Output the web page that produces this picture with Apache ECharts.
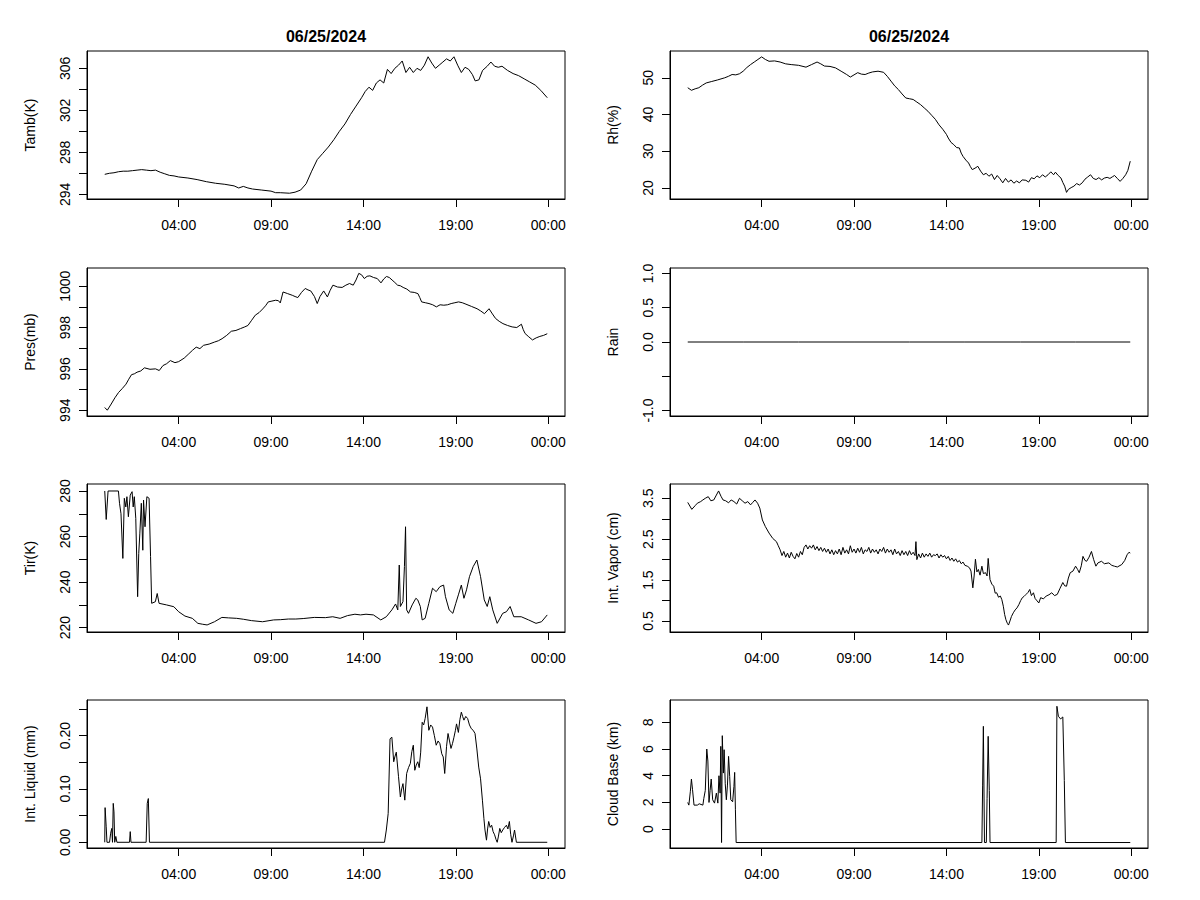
<!DOCTYPE html>
<html>
<head>
<meta charset="utf-8">
<title>06/25/2024</title>
<script src="https://cdn.jsdelivr.net/npm/echarts@6/dist/echarts.min.js"></script>
<style>
    html, body { margin: 0; padding: 0; background: #fff; }
    #chart { width: 1200px; height: 900px; }
</style>
</head>
<body>
<div id="chart"></div>
<script>
const TITLE = '06/25/2024';
const TIME_TICKS = [4, 9, 14, 19, 24];
const X_MIN = -0.96;
const X_MAX = 24.91;

// each series: [hour of day, value]
const tamb = [
    [0, 295.9], [0.25, 296.0], [0.5, 296.05], [0.75, 296.15], [1, 296.2], [1.25, 296.2], [1.5, 296.25],
    [1.75, 296.3], [2, 296.35], [2.25, 296.3], [2.5, 296.25], [2.75, 296.3], [3, 296.1], [3.25, 295.95],
    [3.5, 295.8], [3.75, 295.75], [4, 295.65], [4.5, 295.55], [5, 295.4], [5.5, 295.2], [6, 295.05],
    [6.5, 294.95], [7, 294.8], [7.25, 294.6], [7.5, 294.75], [7.75, 294.6], [8, 294.5], [8.5, 294.4],
    [9, 294.3], [9.25, 294.15], [9.5, 294.15], [10, 294.1], [10.3, 294.2], [10.6, 294.4], [10.9, 295.0],
    [11.2, 296.2], [11.5, 297.3], [11.8, 297.9], [12.1, 298.5], [12.4, 299.2], [12.7, 300.0], [13.0, 300.7],
    [13.3, 301.6], [13.6, 302.4], [13.9, 303.2], [14.1, 303.8], [14.3, 304.2], [14.5, 303.9], [14.7, 304.6],
    [14.9, 304.9], [15.1, 304.6], [15.3, 305.9], [15.5, 305.5], [15.7, 306.0], [15.9, 306.3], [16.1, 306.7],
    [16.3, 305.6], [16.5, 306.1], [16.7, 305.6], [16.9, 306.0], [17.1, 305.8], [17.3, 306.3], [17.5, 307.1],
    [17.7, 306.5], [17.9, 306.0], [18.1, 306.3], [18.3, 306.6], [18.5, 306.9], [18.7, 306.7], [18.9, 307.1],
    [19.1, 306.3], [19.3, 305.6], [19.5, 306.1], [19.7, 305.9], [19.9, 305.4], [20.05, 304.8], [20.25, 304.9],
    [20.45, 305.8], [20.7, 306.2], [20.9, 306.6], [21.1, 306.2], [21.3, 306.1], [21.5, 306.2], [21.8, 305.8],
    [22.1, 305.5], [22.4, 305.3], [22.7, 305.0], [23.0, 304.7], [23.3, 304.4], [23.6, 303.9], [23.95, 303.2]
];

const rh = [
    [0, 47.3], [0.2, 46.6], [0.4, 47.0], [0.6, 47.3], [0.8, 48.0], [1, 48.6], [1.3, 49.0], [1.6, 49.4],
    [2, 50.0], [2.2, 50.4], [2.4, 50.9], [2.6, 50.8], [2.8, 51.1], [3, 51.8], [3.2, 52.8], [3.4, 53.6],
    [3.6, 54.3], [3.8, 55.0], [4, 55.7], [4.2, 55.0], [4.4, 54.5], [4.7, 54.6], [5, 54.3], [5.3, 53.8],
    [5.6, 53.6], [6.0, 53.4], [6.4, 52.9], [6.7, 53.6], [7, 54.3], [7.2, 53.8], [7.4, 53.2], [7.7, 53.1],
    [8, 52.7], [8.3, 51.8], [8.6, 50.9], [8.8, 50.2], [9.0, 50.8], [9.2, 51.4], [9.4, 51.0], [9.6, 50.9],
    [9.8, 51.3], [10, 51.6], [10.3, 51.8], [10.6, 51.5], [10.8, 50.4], [11, 49.1], [11.2, 47.8], [11.4, 46.8],
    [11.6, 45.6], [11.8, 44.5], [12, 44.3], [12.2, 44.1], [12.4, 43.4], [12.6, 42.7], [12.8, 41.8], [13, 40.9],
    [13.2, 39.8], [13.4, 38.7], [13.6, 37.2], [13.8, 36.0], [14.0, 34.6], [14.1, 33.6], [14.25, 32.4],
    [14.4, 31.8], [14.55, 31.0], [14.7, 30.9], [14.8, 29.5], [14.9, 28.6], [15.05, 27.6], [15.2, 26.8],
    [15.3, 25.8], [15.4, 25.0], [15.55, 25.4], [15.7, 25.9], [15.85, 24.6], [16, 23.6], [16.15, 24.0],
    [16.3, 23.2], [16.45, 23.8], [16.6, 22.3], [16.75, 23.4], [16.9, 22.5], [17.05, 21.4], [17.2, 22.6],
    [17.35, 21.6], [17.5, 22.2], [17.65, 21.3], [17.8, 21.9], [17.95, 21.4], [18.1, 22.2], [18.3, 22.1],
    [18.45, 21.6], [18.6, 22.8], [18.75, 22.5], [18.9, 23.3], [19.05, 22.8], [19.2, 23.6], [19.35, 23.0],
    [19.5, 23.6], [19.65, 24.4], [19.8, 23.6], [19.9, 24.3], [20.05, 23.4], [20.2, 22.7], [20.3, 21.5],
    [20.4, 20.5], [20.5, 18.8], [20.6, 19.6], [20.75, 20.1], [20.9, 20.5], [21.05, 21.2], [21.2, 20.8],
    [21.35, 21.4], [21.5, 22.4], [21.65, 23.0], [21.8, 23.6], [21.95, 22.6], [22.1, 22.3], [22.25, 22.8],
    [22.4, 22.2], [22.55, 22.7], [22.7, 22.9], [22.85, 22.6], [23.0, 23.1], [23.1, 23.4], [23.25, 22.6],
    [23.4, 21.8], [23.55, 22.6], [23.7, 23.6], [23.82, 24.8], [23.95, 27.3]
];

const pres = [
    [0, 994.13], [0.14, 994.0], [0.35, 994.3], [0.55, 994.6], [0.75, 994.86], [0.95, 995.05], [1.15, 995.26],
    [1.3, 995.5], [1.45, 995.72], [1.6, 995.76], [1.75, 995.84], [1.95, 995.9], [2.15, 996.05], [2.45, 995.98],
    [2.75, 996.0], [2.95, 995.92], [3.15, 996.16], [3.35, 996.25], [3.55, 996.4], [3.8, 996.3], [4, 996.35],
    [4.3, 996.52], [4.55, 996.73], [4.75, 996.9], [4.95, 997.05], [5.15, 996.98], [5.35, 997.14],
    [5.65, 997.2], [5.95, 997.3], [6.15, 997.36], [6.35, 997.46], [6.6, 997.62], [6.85, 997.82],
    [7.1, 997.86], [7.35, 997.95], [7.55, 998.02], [7.75, 998.1], [7.95, 998.35], [8.15, 998.6],
    [8.35, 998.72], [8.55, 998.9], [8.7, 999.05], [8.85, 999.24], [9.05, 999.28], [9.25, 999.32],
    [9.4, 999.3], [9.5, 999.19], [9.65, 999.72], [9.9, 999.64], [10.15, 999.56], [10.3, 999.5],
    [10.45, 999.45], [10.65, 999.7], [10.85, 999.89], [11.0, 999.82], [11.15, 999.77], [11.35, 999.5],
    [11.5, 999.16], [11.65, 999.5], [11.85, 999.77], [12.05, 999.48], [12.2, 999.8], [12.35, 1000.05],
    [12.6, 999.96], [12.85, 999.94], [13.05, 1000.05], [13.25, 1000.13], [13.45, 1000.05], [13.6, 1000.3],
    [13.75, 1000.62], [13.9, 1000.55], [14.05, 1000.37], [14.2, 1000.48], [14.35, 1000.5], [14.55, 1000.42],
    [14.75, 1000.37], [14.95, 1000.16], [15.1, 1000.35], [15.25, 1000.47], [15.4, 1000.42], [15.55, 1000.3],
    [15.7, 1000.18], [15.85, 1000.05], [16.0, 1000.02], [16.15, 999.94], [16.35, 999.86], [16.55, 999.72],
    [16.75, 999.7], [16.95, 999.64], [17.05, 999.45], [17.15, 999.24], [17.35, 999.2], [17.55, 999.16],
    [17.75, 999.1], [17.95, 999.0], [18.15, 999.1], [18.35, 999.08], [18.55, 999.1], [18.75, 999.16],
    [18.95, 999.2], [19.15, 999.24], [19.35, 999.2], [19.55, 999.13], [19.85, 999.02], [20.15, 998.91],
    [20.35, 998.8], [20.55, 998.67], [20.8, 998.91], [20.95, 998.7], [21.15, 998.44], [21.35, 998.3],
    [21.55, 998.19], [21.8, 998.1], [22.05, 998.03], [22.3, 998.0], [22.55, 998.16], [22.65, 997.9],
    [22.75, 997.71], [22.95, 997.55], [23.15, 997.4], [23.35, 997.5], [23.55, 997.57], [23.75, 997.62],
    [23.95, 997.7]
];

const rain = [
    [0, 0], [3, 0], [6, 0], [9, 0], [12, 0], [15, 0], [18, 0], [21, 0], [23.95, 0]
];

const tir = [
    [0, 280], [0.08, 267.5], [0.18, 280], [0.34, 280], [0.74, 280], [0.8, 274.6], [0.88, 270], [0.98, 250.4],
    [1.06, 276.8], [1.14, 273], [1.2, 277.5], [1.28, 268.7], [1.38, 278.2], [1.48, 279.7], [1.54, 273],
    [1.6, 277.5], [1.68, 268], [1.78, 233.6], [1.84, 252.6], [1.9, 261.5], [1.98, 274.6], [2.06, 254],
    [2.1, 276], [2.18, 264.3], [2.28, 277.5], [2.4, 276.8], [2.48, 251.2], [2.54, 230.7], [2.74, 231.4],
    [2.84, 235], [2.94, 230.7], [3.34, 230], [3.74, 229.2], [4, 227], [4.34, 225.1], [4.74, 224.1],
    [5.04, 221.9], [5.3, 221.5], [5.54, 221.2], [5.94, 222.6], [6.34, 224.5], [6.7, 224.3], [7.14, 224.1],
    [7.5, 223.7], [7.94, 223.1], [8.54, 222.6], [9.14, 223.4], [9.5, 223.5], [9.94, 223.8], [10.34, 223.8],
    [10.74, 224], [11.34, 224.5], [11.94, 224.4], [12.34, 224.8], [12.74, 224.1], [13.14, 225.3],
    [13.54, 225.9], [13.84, 225.6], [14.14, 225.9], [14.54, 225.6], [14.94, 223.4], [15.24, 224.8],
    [15.54, 227.8], [15.74, 230.4], [15.86, 227.8], [15.94, 247.5], [16.0, 229.3], [16.14, 231.4],
    [16.22, 246.8], [16.28, 264.3], [16.34, 227.8], [16.44, 226.3], [16.64, 230], [16.84, 232.9],
    [16.94, 232.2], [17.08, 229.3], [17.18, 223.4], [17.34, 224.1], [17.54, 230.7], [17.74, 237.3],
    [17.94, 235.8], [18.14, 238], [18.34, 238.7], [18.44, 233.6], [18.64, 227.8], [18.84, 226.3],
    [19, 230.7], [19.14, 234.4], [19.3, 238.7], [19.44, 232.9], [19.58, 236.6], [19.74, 242.4],
    [19.94, 246.8], [20.14, 249.7], [20.34, 242.4], [20.54, 232.2], [20.7, 229.3], [20.84, 233.6],
    [21, 227.8], [21.24, 221.9], [21.54, 226.3], [21.74, 227], [21.94, 229.3], [22.14, 224.8],
    [22.54, 224.8], [22.94, 223.4], [23.34, 221.9], [23.64, 222.6], [23.95, 225.6]
];

const vapor = [
    [0, 3.4], [0.22, 3.23], [0.4, 3.32], [0.52, 3.38], [0.7, 3.42], [0.82, 3.46], [0.95, 3.5], [1.11, 3.54],
    [1.25, 3.44], [1.41, 3.46], [1.55, 3.58], [1.67, 3.68], [1.8, 3.55], [1.91, 3.46], [2.05, 3.44],
    [2.21, 3.39], [2.35, 3.46], [2.5, 3.42], [2.65, 3.36], [2.8, 3.5], [2.95, 3.44], [3.1, 3.38],
    [3.25, 3.42], [3.4, 3.34], [3.52, 3.4], [3.64, 3.46], [3.78, 3.38], [3.9, 3.26], [4.04, 2.97],
    [4.2, 2.81], [4.4, 2.65], [4.6, 2.52], [4.8, 2.44], [4.9, 2.34], [5.0, 2.24], [5.1, 2.1], [5.2, 2.2],
    [5.3, 2.06], [5.4, 2.16], [5.5, 2.04], [5.6, 2.18], [5.7, 2.08], [5.8, 2.02], [5.9, 2.15], [6.0, 2.06],
    [6.1, 2.2], [6.2, 2.12], [6.3, 2.3], [6.4, 2.36], [6.5, 2.26], [6.6, 2.34], [6.7, 2.28], [6.8, 2.36],
    [6.9, 2.24], [7.0, 2.32], [7.1, 2.22], [7.2, 2.3], [7.3, 2.2], [7.4, 2.28], [7.5, 2.18], [7.6, 2.26],
    [7.7, 2.14], [7.8, 2.24], [7.9, 2.12], [8.0, 2.22], [8.1, 2.14], [8.2, 2.26], [8.3, 2.12], [8.4, 2.3],
    [8.5, 2.16], [8.6, 2.24], [8.7, 2.14], [8.8, 2.34], [8.9, 2.18], [9.0, 2.26], [9.1, 2.16], [9.2, 2.28],
    [9.3, 2.18], [9.4, 2.3], [9.5, 2.14], [9.6, 2.24], [9.7, 2.2], [9.8, 2.3], [9.9, 2.16], [10.0, 2.26],
    [10.1, 2.18], [10.2, 2.24], [10.3, 2.14], [10.4, 2.26], [10.5, 2.2], [10.6, 2.3], [10.7, 2.16],
    [10.8, 2.26], [10.9, 2.18], [11.0, 2.24], [11.1, 2.12], [11.2, 2.26], [11.3, 2.14], [11.4, 2.2],
    [11.5, 2.1], [11.6, 2.22], [11.7, 2.12], [11.8, 2.2], [11.9, 2.1], [12.0, 2.22], [12.1, 2.12],
    [12.2, 2.18], [12.3, 2.1], [12.35, 2.44], [12.4, 2.0], [12.5, 2.14], [12.6, 2.04], [12.7, 2.16],
    [12.8, 2.06], [12.9, 2.14], [13.0, 2.08], [13.1, 2.16], [13.2, 2.06], [13.3, 2.12], [13.4, 2.1],
    [13.5, 2.14], [13.6, 2.04], [13.7, 2.12], [13.8, 2.06], [13.9, 2.1], [14.0, 2.02], [14.1, 2.08],
    [14.2, 1.98], [14.3, 2.04], [14.4, 1.96], [14.5, 2.02], [14.6, 1.94], [14.7, 1.98], [14.8, 1.9],
    [14.9, 1.94], [15.0, 1.86], [15.13, 1.84], [15.25, 1.8], [15.33, 1.72], [15.43, 1.31],
    [15.5, 1.6], [15.57, 2.01], [15.65, 1.7], [15.73, 1.76], [15.82, 1.62], [15.92, 1.84], [16.0, 1.66],
    [16.12, 1.68], [16.2, 1.6], [16.26, 2.03], [16.36, 1.51], [16.46, 1.4], [16.56, 1.35], [16.64, 1.18],
    [16.72, 1.19], [16.82, 1.08], [16.92, 1.11], [17.0, 1.02], [17.08, 0.86], [17.15, 0.66], [17.22, 0.53],
    [17.3, 0.44], [17.36, 0.4], [17.44, 0.5], [17.52, 0.61], [17.62, 0.7], [17.72, 0.77], [17.82, 0.82],
    [17.92, 0.9], [18.02, 1.0], [18.11, 1.07], [18.2, 1.1], [18.31, 1.15], [18.42, 1.2], [18.51, 1.27],
    [18.6, 1.12], [18.71, 1.19], [18.8, 1.05], [18.91, 0.99], [19.0, 0.94], [19.1, 1.07], [19.25, 1.04],
    [19.4, 1.11], [19.55, 1.14], [19.7, 1.19], [19.85, 1.12], [20.0, 1.15], [20.15, 1.3], [20.3, 1.44],
    [20.4, 1.36], [20.5, 1.35], [20.6, 1.55], [20.7, 1.68], [20.85, 1.72], [20.99, 1.84], [21.1, 1.76],
    [21.19, 1.68], [21.3, 1.85], [21.39, 2.08], [21.5, 1.98], [21.59, 1.96], [21.72, 2.06], [21.85, 2.2],
    [21.97, 2.0], [22.09, 1.84], [22.2, 1.92], [22.39, 1.96], [22.55, 1.9], [22.79, 1.92], [22.95, 1.86],
    [23.09, 1.84], [23.25, 1.82], [23.49, 1.88], [23.65, 1.98], [23.78, 2.12], [23.88, 2.18], [23.95, 2.16]
];

const liquid = [
    [0, 0], [0.02, 0.065], [0.08, 0.029], [0.12, 0], [0.26, 0], [0.32, 0.017], [0.38, 0.026], [0.42, 0],
    [0.46, 0.073], [0.5, 0.057], [0.54, 0], [0.6, 0.011], [0.66, 0], [1.34, 0], [1.38, 0.02], [1.42, 0],
    [2.24, 0], [2.3, 0.073], [2.36, 0.082], [2.42, 0], [15.14, 0], [15.24, 0.023], [15.34, 0.054],
    [15.44, 0.194], [15.54, 0.197], [15.64, 0.151], [15.7, 0.16], [15.78, 0.169], [15.9, 0.123], [16.0, 0.085],
    [16.07, 0.1], [16.14, 0.11], [16.24, 0.079], [16.34, 0.129], [16.44, 0.14], [16.54, 0.148], [16.62, 0.17],
    [16.7, 0.182], [16.78, 0.135], [16.86, 0.145], [16.94, 0.151], [17.02, 0.14], [17.1, 0.169], [17.18, 0.225],
    [17.26, 0.22], [17.34, 0.232], [17.44, 0.254], [17.54, 0.21], [17.64, 0.22], [17.74, 0.216], [17.84, 0.2],
    [17.94, 0.182], [18.04, 0.19], [18.14, 0.185], [18.24, 0.166], [18.32, 0.16], [18.4, 0.129], [18.5, 0.18],
    [18.58, 0.204], [18.66, 0.19], [18.74, 0.176], [18.82, 0.185], [18.9, 0.197], [18.98, 0.21], [19.04, 0.222],
    [19.14, 0.206], [19.22, 0.23], [19.3, 0.244], [19.37, 0.236], [19.44, 0.229], [19.54, 0.236], [19.64, 0.232],
    [19.74, 0.22], [19.84, 0.213], [19.94, 0.21], [20.04, 0.204], [20.14, 0.175], [20.24, 0.141], [20.34, 0.119],
    [20.44, 0.079], [20.52, 0.045], [20.58, 0.023], [20.66, 0.004], [20.72, 0.025], [20.78, 0.039], [20.86, 0.028],
    [20.94, 0.032], [21.02, 0.02], [21.1, 0.014], [21.18, 0.005], [21.24, 0], [21.3, 0.01], [21.38, 0.026],
    [21.46, 0.018], [21.54, 0.023], [21.64, 0.028], [21.74, 0.032], [21.82, 0.025], [21.9, 0.039], [21.97, 0.015],
    [22.04, 0], [22.12, 0.012], [22.18, 0.023], [22.28, 0], [23.95, 0]
];

const cloudBase = [
    [0, 2], [0.06, 1.8], [0.14, 2.8], [0.2, 3.75], [0.26, 2.95], [0.34, 1.8], [0.52, 1.8], [0.62, 1.9],
    [0.82, 1.8], [0.87, 2.3], [0.95, 2.9], [1.03, 6.0], [1.09, 5.1], [1.15, 2.0], [1.21, 2.9], [1.27, 3.75],
    [1.35, 2.2], [1.45, 1.95], [1.55, 2.7], [1.63, 1.95], [1.69, 4.0], [1.75, 2.7], [1.79, 6.2], [1.83, -1],
    [1.87, 7.0], [1.93, 4.2], [1.97, 5.95], [2.03, 3.4], [2.09, 2.2], [2.15, 3.3], [2.21, 5.45], [2.27, 3.95],
    [2.33, 2.2], [2.43, 2.05], [2.5, 3.2], [2.54, 4.25], [2.58, 1.45], [2.62, -1], [15.92, -1], [15.96, 3.3],
    [16.0, 7.7], [16.06, -1], [16.16, -1], [16.2, 2.3], [16.26, 6.95], [16.32, 2.9], [16.36, -1], [19.94, -1],
    [19.98, 9.2], [20.06, 8.45], [20.18, 8.25], [20.3, 8.4], [20.38, 3.65], [20.44, -1], [23.95, -1]
];

// y ticks and the subset R labelled
const tambTicks = [294, 296, 298, 300, 302, 304, 306];
const tambLabels = [294, 298, 302, 306];
const rhTicks = [20, 30, 40, 50];
const presTicks = [994, 995, 996, 997, 998, 999, 1000];
const presLabels = [994, 996, 998, 1000];
const rainTicks = [-1, -0.5, 0, 0.5, 1];
const rainLabels = [-1, 0, 0.5, 1];
const tirTicks = [220, 230, 240, 250, 260, 270, 280];
const tirLabels = [220, 240, 260, 280];
const vaporTicks = [0.5, 1, 1.5, 2, 2.5, 3, 3.5];
const vaporLabels = [0.5, 1.5, 2.5, 3.5];
const liquidTicks = [0, 0.05, 0.1, 0.15, 0.2, 0.25];
const liquidLabels = [0, 0.1, 0.2];
const cloudTicks = [0, 2, 4, 6, 8];

const FONT = '"Liberation Sans", Arial, sans-serif';
const FONT_SIZE = 14;
const COL_LEFT = [87, 670];
const ROW_TOP = [51, 268, 484, 700];
const PLOT_W = 478;
const PLOT_H = 148;

const panels = [
    { name: 'Tamb(K)', data: tamb, min: 293.55, max: 307.65, ticks: tambTicks, labels: tambLabels, dp: 0 },
    { name: 'Rh(%)', data: rh, min: 17.0, max: 57.3, ticks: rhTicks, labels: rhTicks, dp: 0 },
    { name: 'Pres(mb)', data: pres, min: 993.72, max: 1000.88, ticks: presTicks, labels: presLabels, dp: 0 },
    { name: 'Rain', data: rain, min: -1.08, max: 1.08, ticks: rainTicks, labels: rainLabels, dp: 1 },
    { name: 'Tir(K)', data: tir, min: 218.1, max: 283.07, ticks: tirTicks, labels: tirLabels, dp: 0 },
    { name: 'Int. Vapor (cm)', data: vapor, min: 0.23, max: 3.85, ticks: vaporTicks, labels: vaporLabels, dp: 1 },
    { name: 'Int. Liquid (mm)', data: liquid, min: -0.0107, max: 0.2668, ticks: liquidTicks, labels: liquidLabels, dp: 2 },
    { name: 'Cloud Base (km)', data: cloudBase, min: -1.41, max: 9.67, ticks: cloudTicks, labels: cloudTicks, dp: 0 }
];

function hourLabel(h) {
    return String(h % 24).padStart(2, '0') + ':00';
}

const axisLine = { show: true, onZero: false, lineStyle: { color: '#000', width: 1 } };
const textStyle = { color: '#000', fontSize: FONT_SIZE, fontFamily: FONT };

const grid = [], xAxis = [], yAxis = [], series = [];
panels.forEach((p, i) => {
    const col = i % 2;
    const row = Math.floor(i / 2);
    grid.push({
        left: COL_LEFT[col], top: ROW_TOP[row], width: PLOT_W, height: PLOT_H,
        show: true, borderColor: '#000', borderWidth: 1, backgroundColor: 'transparent'
    });
    xAxis.push({
        type: 'value', gridIndex: i, min: X_MIN, max: X_MAX,
        axisLine,
        axisTick: { show: true, length: 8, customValues: TIME_TICKS, lineStyle: { color: '#000' } },
        axisLabel: { ...textStyle, customValues: TIME_TICKS, margin: 19, formatter: hourLabel },
        splitLine: { show: false }
    });
    yAxis.push({
        type: 'value', gridIndex: i, min: p.min, max: p.max,
        name: p.name, nameLocation: 'middle', nameRotate: 90, nameGap: 50,
        nameTextStyle: textStyle,
        axisLine,
        axisTick: { show: true, length: 8, customValues: p.ticks, lineStyle: { color: '#000' } },
        axisLabel: {
            ...textStyle, customValues: p.labels, rotate: 90, margin: 15,
            formatter: v => v.toFixed(p.dp)
        },
        splitLine: { show: false }
    });
    series.push({
        type: 'line', xAxisIndex: i, yAxisIndex: i, data: p.data,
        showSymbol: false, symbol: 'none', silent: true,
        lineStyle: { color: '#000', width: 1 }
    });
});

const titles = COL_LEFT.map(left => ({
    text: TITLE, left: left + PLOT_W / 2, top: 28, textAlign: 'center', padding: 0,
    textStyle: { color: '#000', fontSize: 16, fontWeight: 'bold', fontFamily: FONT }
}));

const chart = echarts.init(document.getElementById('chart'), null, { renderer: 'svg' });
chart.setOption({
    animation: false,
    backgroundColor: '#fff',
    title: titles,
    grid, xAxis, yAxis, series
});
</script>
</body>
</html>
